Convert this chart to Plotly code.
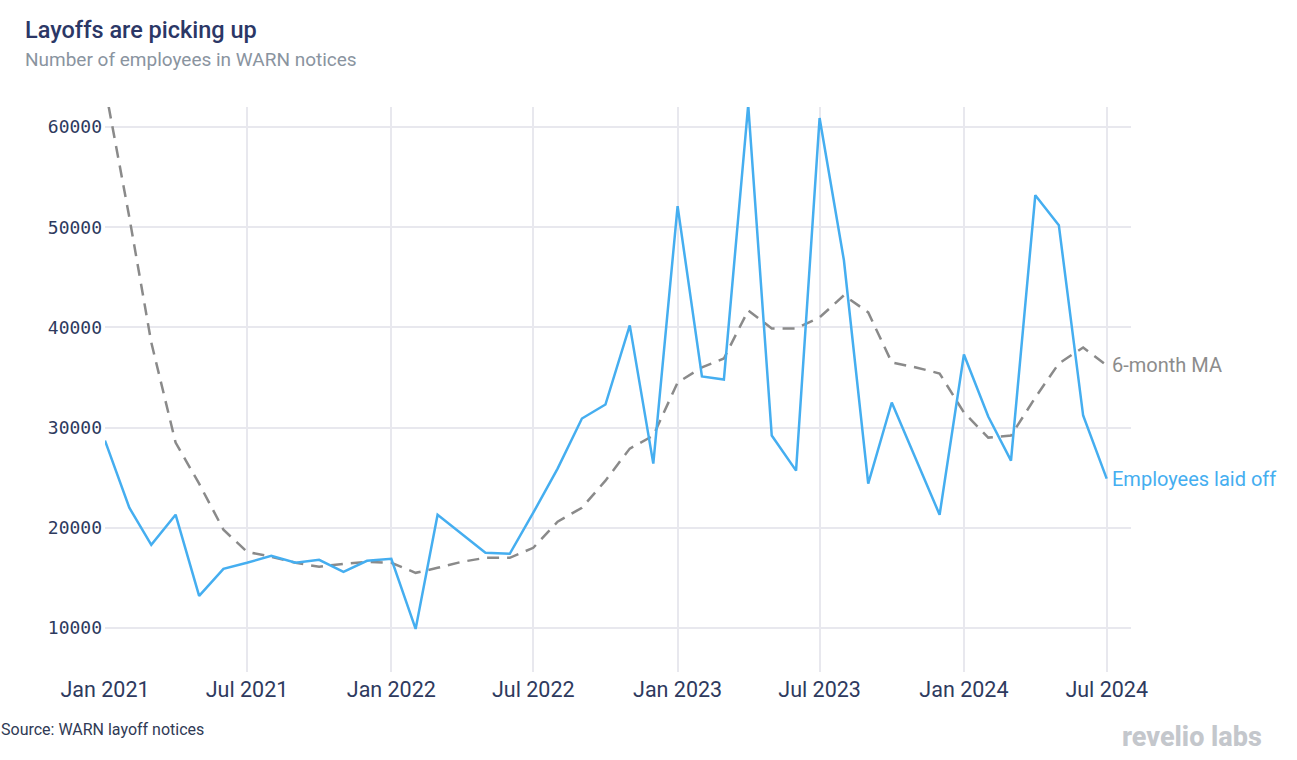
import plotly.graph_objects as go
import pandas as pd

months = pd.date_range("2021-01-01", "2024-07-01", freq="MS")

laid_off = [
    28700, 22000, 18300, 21300, 13200, 15900, 16500, 17200, 16500, 16800, 15600, 16700,
    16900, 9900, 21300, 19400, 17500, 17400, 21500, 25900, 30900, 32300, 40200, 26400,
    52100, 35100, 34800, 62200, 29200, 25700, 60900, 46700, 24400, 32500, 26900, 21300,
    37300, 31100, 26700, 53200, 50200, 31200, 24900,
]
ma6 = [
    64000, 51000, 38500, 28500, 24400, 19800, 17600, 17100, 16500, 16100, 16400, 16600,
    16500, 15500, 16000, 16600, 17000, 17000, 18000, 20600, 22000, 24700, 27900, 29200,
    34500, 36000, 36900, 41700, 39900, 39900, 41000, 43200, 41500, 36500, 36000, 35400,
    31500, 29000, 29200, 33000, 36400, 38000, 36200,
]
x_ticks = ["2021-01-01", "2021-07-01", "2022-01-01", "2022-07-01",
           "2023-01-01", "2023-07-01", "2024-01-01", "2024-07-01"]
x_tick_labels = ["Jan 2021", "Jul 2021", "Jan 2022", "Jul 2022",
                 "Jan 2023", "Jul 2023", "Jan 2024", "Jul 2024"]
y_ticks = [10000, 20000, 30000, 40000, 50000, 60000]
y_tick_labels = ["10000", "20000", "30000", "40000", "50000", "60000"]

BLUE = "#45aef0"
GRAY = "#8a8a8a"
NAVY = "#2e3a5e"

W, H = 1297, 760
L, R, T, B = 105, 166, 107, 88
pw, ph = W - L - R, H - T - B

def px(x):
    return (x - L) / pw

def py(y):
    return (H - B - y) / ph

fig = go.Figure()
fig.add_trace(go.Scatter(x=months, y=ma6, mode="lines", name="6-month MA",
                         line=dict(color=GRAY, width=2.5, dash="12px,8px")))
fig.add_trace(go.Scatter(x=months, y=laid_off, mode="lines", name="Employees laid off",
                         line=dict(color=BLUE, width=2.5)))

fig.add_annotation(x=months[-1], y=ma6[-1], xref="x", yref="y", text="6-month MA",
                   showarrow=False, xanchor="left", yanchor="middle", xshift=3,
                   font=dict(family="Roboto", size=20, color="#8c8c8c"))
fig.add_annotation(x=months[-1], y=laid_off[-1], xref="x", yref="y", text="Employees laid off",
                   showarrow=False, xanchor="left", yanchor="middle", xshift=3,
                   font=dict(family="Roboto", size=20, color=BLUE))

fig.add_annotation(x=px(23), y=py(30), xref="paper", yref="paper", text="Layoffs are picking up",
                   showarrow=False, xanchor="left", yanchor="middle",
                   font=dict(family="Roboto", size=23.5, color="#2b3766", weight=500))
fig.add_annotation(x=px(23), y=py(60), xref="paper", yref="paper",
                   text="Number of employees in WARN notices",
                   showarrow=False, xanchor="left", yanchor="middle",
                   font=dict(family="Roboto", size=19, color="#8a949f"))
fig.add_annotation(x=px(-1), y=py(729), xref="paper", yref="paper",
                   text="Source: WARN layoff notices",
                   showarrow=False, xanchor="left", yanchor="middle",
                   font=dict(family="Roboto", size=16, color="#2f3a55"))
fig.add_annotation(x=px(1264), y=py(737), xref="paper", yref="paper",
                   text="revelio labs",
                   showarrow=False, xanchor="right", yanchor="middle",
                   font=dict(family="Roboto", size=27, color="#c4c7cc", weight=800))

fig.update_layout(
    width=W, height=H,
    margin=dict(l=L, r=R, t=T, b=B),
    paper_bgcolor="white", plot_bgcolor="white",
    showlegend=False,
    xaxis=dict(range=["2021-01-01", "2024-08-01"], tickvals=x_ticks, ticktext=x_tick_labels,
               showgrid=True, gridcolor="#e8e8ee", gridwidth=2, zeroline=False,
               showline=False, ticks="", ticklabelstandoff=2,
               tickfont=dict(family="Roboto", size=21.5, color=NAVY)),
    yaxis=dict(range=[5600, 62000], tickvals=y_ticks, ticktext=y_tick_labels,
               showgrid=True, gridcolor="#e8e8ee", gridwidth=2, zeroline=False,
               showline=False, ticks="", ticklabelstandoff=2,
               tickfont=dict(family="DejaVu Sans Mono", size=18, color=NAVY)),
)

fig.write_html("out.html")
